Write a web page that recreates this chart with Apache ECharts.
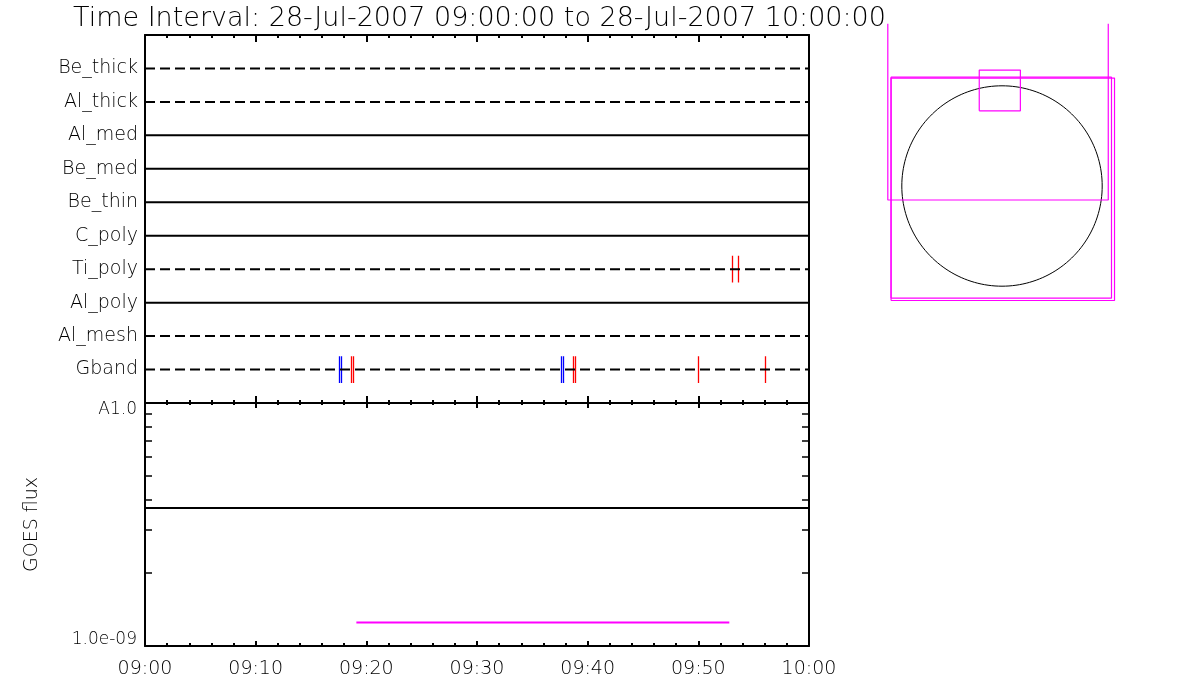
<!DOCTYPE html>
<html><head><meta charset="utf-8">
<script src="https://cdn.jsdelivr.net/npm/echarts@6/dist/echarts.min.js"></script>
<style>html,body{margin:0;padding:0;background:#fff}#c{width:1200px;height:700px}</style>
</head><body><div id="c"></div>
<script>
const titleText = 'Time Interval: 28-Jul-2007 09:00:00 to 28-Jul-2007 10:00:00';
const rowNames = ['Gband','Al_mesh','Al_poly','Ti_poly','C_poly','Be_thin','Be_med','Al_med','Al_thick','Be_thick'];
const rowDashed = [true, true, false, true, false, false, false, false, true, true];
const xTickLabels = ['09:00','09:10','09:20','09:30','09:40','09:50','10:00'];
const gbandBlueMarks = [17.56, 17.74, 37.65, 37.83];
const gbandRedMarks = [18.64, 18.82, 38.70, 38.88, 50.00, 56.05];
const tipolyRedMarks = [53.06, 53.60];
const goesFluxLevel = 3.7e-9;
const magentaSpan = [19.1, 52.8];
const magentaLevel = 1.25e-9;
const fluxRange = [1e-9, 1e-8];
const fluxTickLabels = ['1.0e-09', 'A1.0'];
const fluxMinorTicks = [2e-9, 3e-9, 4e-9, 5e-9, 6e-9, 7e-9, 8e-9, 9e-9];
const sunRadius = 960;
const fovOpenOutline = [[-1094, 1555], [-1094, -134], [1018, -134], [1018, 1555]];
const fovBoxes = [[-1063, 1049, -1075, 1043], [-1063, 1078, -1097, 1034], [-218, 176, 720, 1111]];

const FONT = 'DejaVu Sans';
const FW = 200;
const lg = v => Math.log10(v);
const rowIdx = n => rowNames.indexOf(n);

function timeAxis(grid, pos, tickLen, minorLen, showLabel) {
  return {
    type: 'value', gridIndex: grid, position: pos, min: 0, max: 60, interval: 10,
    axisLine: {show: true, onZero: false, lineStyle: {color: '#000', width: 2}},
    axisTick: {show: true, inside: true, length: tickLen, lineStyle: {color: '#000', width: 2}},
    minorTick: {show: true, splitNumber: 5, length: minorLen, lineStyle: {color: '#000', width: 2}},
    splitLine: {show: false}, minorSplitLine: {show: false},
    axisLabel: {show: showLabel, margin: 14, fontSize: 19, fontFamily: FONT, fontWeight: FW, color: '#000',
      formatter: v => xTickLabels[Math.round(v / 10)]}
  };
}
function fluxAxis(pos, showLabel) {
  return {
    type: 'value', gridIndex: 1, position: pos, min: lg(fluxRange[0]), max: lg(fluxRange[1]), interval: 1,
    axisLine: {show: true, onZero: false, lineStyle: {color: '#000', width: 2}},
    axisTick: {show: true, inside: true, length: 7, lineStyle: {color: '#000', width: 1.5},
      customValues: fluxMinorTicks.map(lg)},
    splitLine: {show: false},
    axisLabel: {show: showLabel, margin: 8, fontSize: 17, fontFamily: FONT, fontWeight: FW, color: '#000',
      customValues: fluxRange.map(lg),
      formatter: v => Math.abs(v - lg(fluxRange[0])) < 1e-6 ? '{b|' + fluxTickLabels[0] + '}' : '{t|' + fluxTickLabels[1] + '}',
      rich: {t: {fontSize: 17, fontFamily: FONT, fontWeight: FW, padding: [14, 0, 0, 0]},
             b: {fontSize: 17, fontFamily: FONT, fontWeight: FW, padding: [0, 0, 12, 0]}}}
  };
}

const series = [];
rowNames.forEach((name, i) => {
  series.push({type: 'line', xAxisIndex: 0, yAxisIndex: 0, symbol: 'none', silent: true,
    data: [[0, i], [60, i]],
    lineStyle: {color: '#000', width: 2, type: rowDashed[i] ? [10, 5] : 'solid'}});
});
function marks(list, row, color) {
  return {type: 'lines', coordinateSystem: 'cartesian2d', xAxisIndex: 0, yAxisIndex: 0, silent: true,
    lineStyle: {color: color, width: 1.3, opacity: 1, curveness: 0},
    data: list.map(t => ({coords: [[t, row - 0.4], [t, row + 0.4]]}))};
}
series.push(marks(gbandBlueMarks, rowIdx('Gband'), '#0000ff'));
series.push(marks(gbandRedMarks, rowIdx('Gband'), '#ff0000'));
series.push(marks(tipolyRedMarks, rowIdx('Ti_poly'), '#ff0000'));
series.push({type: 'line', xAxisIndex: 3, yAxisIndex: 2, symbol: 'none', silent: true,
  data: [[0, lg(goesFluxLevel)], [60, lg(goesFluxLevel)]], lineStyle: {color: '#000', width: 2}});
series.push({type: 'line', xAxisIndex: 3, yAxisIndex: 2, symbol: 'none', silent: true,
  data: [[magentaSpan[0], lg(magentaLevel)], [magentaSpan[1], lg(magentaLevel)]], lineStyle: {color: '#ff00ff', width: 2}});
// solar limb
const limb = [];
for (let a = 0; a <= 360; a += 2) limb.push([sunRadius * Math.cos(a * Math.PI / 180), sunRadius * Math.sin(a * Math.PI / 180)]);
series.push({type: 'line', xAxisIndex: 4, yAxisIndex: 4, symbol: 'none', silent: true, data: limb,
  lineStyle: {color: '#000', width: 1}});
series.push({type: 'line', xAxisIndex: 4, yAxisIndex: 4, symbol: 'none', silent: true, data: fovOpenOutline,
  lineStyle: {color: '#ff00ff', width: 1.2}});
fovBoxes.forEach(b => {
  series.push({type: 'line', xAxisIndex: 4, yAxisIndex: 4, symbol: 'none', silent: true,
    data: [[b[0], b[2]], [b[1], b[2]], [b[1], b[3]], [b[0], b[3]], [b[0], b[2]]],
    lineStyle: {color: '#ff00ff', width: 1.2}});
});

const chart = echarts.init(document.getElementById('c'), null, {renderer: 'canvas'});
chart.setOption({
  animation: false,
  backgroundColor: '#fff',
  title: {text: titleText, left: 68, top: 0, textStyle: {fontSize: 27, fontWeight: FW, fontFamily: FONT, color: '#000'}},
  grid: [
    {left: 145, top: 35, width: 664, height: 368},
    {left: 145, top: 403, width: 664, height: 243},
    {left: 835, top: 19, width: 334, height: 334}
  ],
  xAxis: [
    timeAxis(0, 'bottom', 7, 3, false),
    timeAxis(0, 'top', 7, 3, false),
    timeAxis(1, 'top', 5, 2, false),
    timeAxis(1, 'bottom', 5, 3, true),
    {type: 'value', gridIndex: 2, min: -1600, max: 1600, show: false}
  ],
  yAxis: [
    {type: 'value', gridIndex: 0, position: 'left', min: -1, max: 10, interval: 1,
      axisLine: {show: true, onZero: false, lineStyle: {color: '#000', width: 2}},
      axisTick: {show: false}, splitLine: {show: false},
      axisLabel: {margin: 7, fontSize: 19, fontFamily: FONT, fontWeight: FW, color: '#000',
        formatter: v => (v >= 0 && v < rowNames.length) ? rowNames[v] : ''}},
    {type: 'value', gridIndex: 0, position: 'right', min: -1, max: 10, interval: 1,
      axisLine: {show: true, onZero: false, lineStyle: {color: '#000', width: 2}},
      axisTick: {show: false}, splitLine: {show: false}, axisLabel: {show: false}},
    Object.assign(fluxAxis('left', true), {name: 'GOES flux', nameLocation: 'middle', nameGap: 103,
      nameTextStyle: {fontSize: 19, fontFamily: FONT, fontWeight: FW, color: '#000'}}),
    fluxAxis('right', false),
    {type: 'value', gridIndex: 2, min: -1600, max: 1600, show: false}
  ],
  series: series
});
</script></body></html>
